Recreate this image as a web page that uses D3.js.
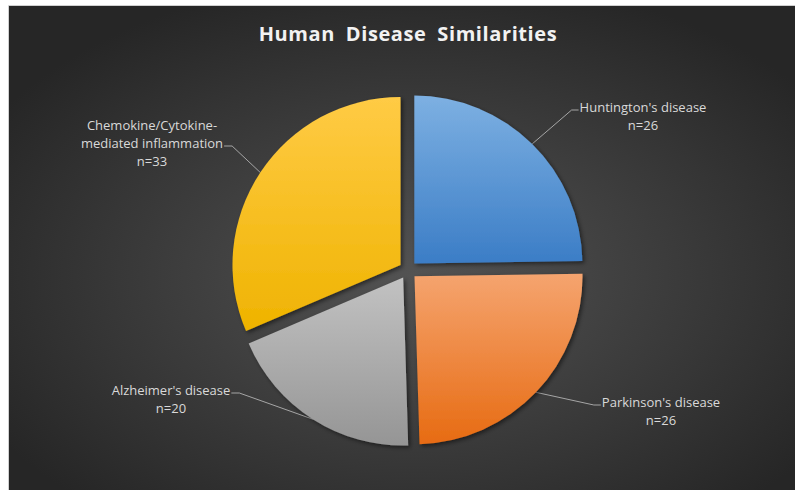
<!DOCTYPE html>
<html>
<head>
<meta charset="utf-8">
<title>Human Disease Similarities</title>
<script src="https://cdn.jsdelivr.net/npm/d3@7"></script>
<style>
  html, body { margin: 0; padding: 0; background: #ffffff; overflow: hidden; }
  svg { display: block; }
  .lbl { font-family: "Open Sans", sans-serif; font-size: 13px; fill: #d9d9d9; }
</style>
</head>
<body>
<div id="chart"></div>
<script>
// data
var diseases = ["Huntington's disease", "Parkinson's disease", "Alzheimer's disease", "Chemokine/Cytokine-|mediated inflammation"];
var counts = [26, 26, 20, 33];
var topColors = ["#7db0e2", "#f5a46f", "#c2c2c2", "#ffcb45"];
var bottomColors = ["#3b7dc6", "#e76b12", "#959595", "#efb300"];

// label layout: centre x, first baseline y, which side the leader comes in from
var labelLayout = [
  { x: 643, y: 112, side: "left" },
  { x: 661, y: 407, side: "left" },
  { x: 171, y: 395, side: "right" },
  { x: 152, y: 130, side: "right" }
];

var W = 795, H = 490;
var cx = 408, cy = 270, radius = 168, explode = 9;

var svg = d3.select("#chart").append("svg")
  .attr("width", W).attr("height", H);

var defs = svg.append("defs");

var bg = defs.append("radialGradient").attr("id", "bg")
  .attr("cx", "0.51").attr("cy", "0.55").attr("r", "0.62");
bg.append("stop").attr("offset", "0%").attr("stop-color", "#535353");
bg.append("stop").attr("offset", "100%").attr("stop-color", "#262626");

counts.forEach(function(c, i) {
  var g = defs.append("linearGradient").attr("id", "sl" + i)
    .attr("x1", 0).attr("y1", 0).attr("x2", 0).attr("y2", 1);
  g.append("stop").attr("offset", "0%").attr("stop-color", topColors[i]);
  g.append("stop").attr("offset", "100%").attr("stop-color", bottomColors[i]);
});

var shadow = defs.append("filter").attr("id", "shadow")
  .attr("x", "-10%").attr("y", "-10%").attr("width", "130%").attr("height", "130%");
shadow.append("feDropShadow").attr("dx", 2).attr("dy", 2)
  .attr("stdDeviation", 2).attr("flood-color", "#000").attr("flood-opacity", 0.5);

// background, runs off the right and bottom edges
svg.append("rect")
  .attr("x", 9).attr("y", 6).attr("width", W).attr("height", H)
  .attr("fill", "url(#bg)");
svg.append("path")
  .attr("d", "M8.5," + H + "V5.5H" + W)
  .attr("fill", "none").attr("stroke", "#d0d0d0").attr("stroke-width", 1);

// title
svg.append("text")
  .attr("x", cx).attr("y", 41)
  .attr("text-anchor", "middle")
  .style("font-family", "'Open Sans', sans-serif")
  .style("font-size", "20px").style("font-weight", "bold")
  .style("letter-spacing", "0.6px").style("word-spacing", "5px")
  .style("fill", "#f2f2f2")
  .text("Human Disease Similarities");

var pie = d3.pie().sort(null).value(function(d) { return d; });
var arcs = pie(counts);
var arc = d3.arc().innerRadius(0).outerRadius(radius);

function offset(d, dist) {
  var a = (d.startAngle + d.endAngle) / 2;
  return [Math.sin(a) * dist, -Math.cos(a) * dist];
}

// leader lines and labels
var labels = svg.append("g");
arcs.forEach(function(d, i) {
  var L = labelLayout[i];
  var lines = diseases[i].split("|").concat(["n=" + counts[i]]);
  var t = labels.append("text").attr("class", "lbl").attr("text-anchor", "middle");
  lines.forEach(function(s, k) {
    t.append("tspan").attr("x", L.x).attr("y", L.y + k * 18).text(s);
  });
  // the line that sits next to the leader
  var hook = lines.length - 2;
  var tw = t.selectAll("tspan").nodes()[hook].getComputedTextLength();
  var ly = L.y + hook * 18 - 2;
  var ex = L.side === "left" ? L.x - tw / 2 - 1 : L.x + tw / 2 + 1;
  var elbow = L.side === "left" ? ex - 7 : ex + 8;
  var o = offset(d, explode);
  var a = (d.startAngle + d.endAngle) / 2;
  var px = cx + o[0] + Math.sin(a) * radius;
  var py = cy + o[1] - Math.cos(a) * radius;
  labels.insert("polyline", "text")
    .attr("points", [[px, py], [elbow, ly], [ex, ly]].map(function(p) { return p.join(","); }).join(" "))
    .attr("fill", "none").attr("stroke", "#a6a6a6").attr("stroke-width", 1);
});

// slices
svg.append("g")
  .selectAll("path")
  .data(arcs)
  .enter().append("path")
  .attr("transform", function(d) {
    var o = offset(d, explode);
    return "translate(" + (cx + o[0]) + "," + (cy + o[1]) + ")";
  })
  .attr("d", arc)
  .attr("fill", function(d, i) { return "url(#sl" + i + ")"; })
  .attr("filter", "url(#shadow)");
</script>
</body>
</html>
